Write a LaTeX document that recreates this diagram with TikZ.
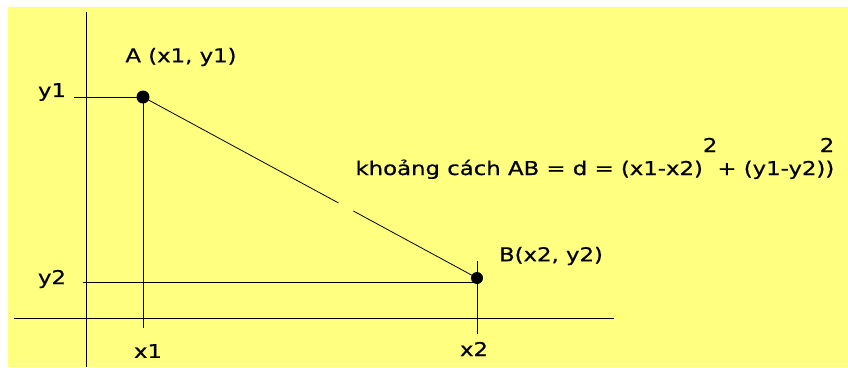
\documentclass[tikz,border=0pt]{standalone}
\usepackage{fontspec}
\setmainfont[FakeStretch=1.2, FakeBold=0.6]{DejaVu Sans}
\usetikzlibrary{calc}
\definecolor{paleyellow}{RGB}{255,255,128}

\begin{document}
\begin{tikzpicture}[x=1pt, y=-1pt, line width=1pt,
    font=\fontsize{19}{22}\selectfont,
    dot/.style={circle, fill=black, inner sep=0pt, minimum size=#1},
    lbl/.style={inner sep=0pt}]
    \useasboundingbox (0,0) rectangle (848,367);
    \fill[paleyellow] (8,7) rectangle (848,367);

    % axes
    \coordinate (Ytop) at (86,12);
    \coordinate (Ybot) at (86,367);
    \coordinate (Xleft) at (14,318);
    \coordinate (Xright) at (614,318);
    \draw (Ytop) -- (Ybot);
    \draw (Xleft) -- (Xright);

    % the two points
    \node[dot=13pt] (A) at (143,97) {};
    \node[dot=12pt] (B) at (477,278) {};

    \coordinate (Ay) at (74,97);
    \coordinate (Ax) at (143,328);
    \coordinate (By) at (83,282);
    \coordinate (Bx) at (477,334);
    \coordinate (Bt) at (477,261);
    \draw (Ay) -- (A.center) -- (Ax);
    \draw (By) -- (477,282);
    \draw (Bt) -- (Bx);

    % segment AB, with a small break
    \coordinate (G1) at ($(A.center)!0.585!(B.center)$);
    \coordinate (G2) at ($(A.center)!0.63!(B.center)$);
    \draw[line width=0.8pt] (A.center) -- (G1);
    \draw[line width=0.8pt] (G2) -- (B.center);

    \node[lbl] (y1) at (52,92) {y1};
    \node[lbl] (y2) at (52,279) {y2};
    \node[lbl] (x1) at (148,351) {x1};
    \node[lbl] (x2) at (474,349) {x2};
    \node[lbl] (Alabel) at (181,57) {A (x1, y1)};
    \node[lbl] (Blabel) at (551,256) {B(x2, y2)};

    \node[lbl, anchor=base west] (dist) at (355,175)
        {khoảng cách AB = d = (x1-x2)\raisebox{23pt}{2}+ (y1-y2))\llap{\raisebox{23pt}{2}}};
\end{tikzpicture}
\end{document}
